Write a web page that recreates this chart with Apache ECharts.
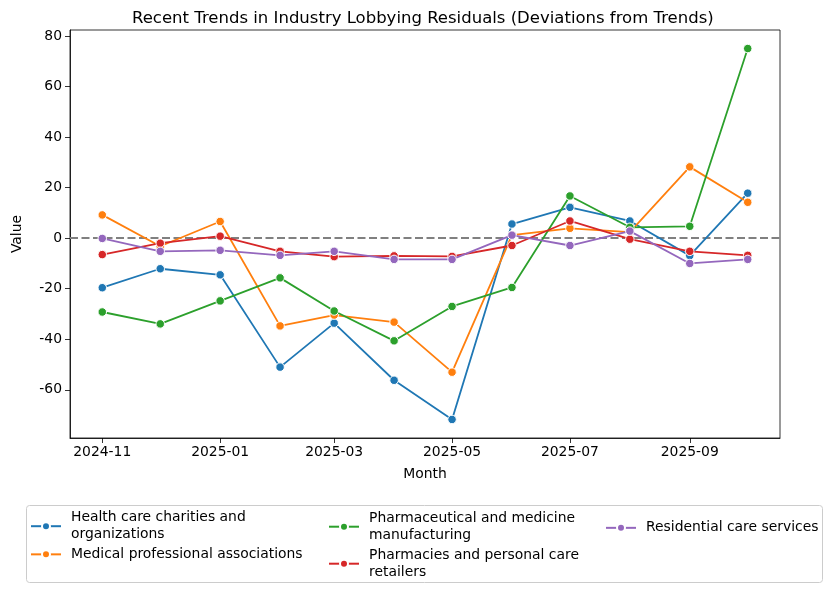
<!DOCTYPE html>
<html>
<head>
<meta charset="utf-8">
<script src="https://cdn.jsdelivr.net/npm/echarts@6/dist/echarts.min.js"></script>
<style>html,body{margin:0;padding:0;background:#fff}#c{width:832px;height:593px}</style>
</head>
<body>
<div id="c"></div>
<script>
const months = ['2024-11','2024-12','2025-01','2025-02','2025-03','2025-04','2025-05','2025-06','2025-07','2025-08','2025-09','2025-10'];
const xTickLabels = ['2024-11','2025-01','2025-03','2025-05','2025-07','2025-09'];
const yTicks = [-60,-40,-20,0,20,40,60,80];
const seriesNames = ['Health care charities and organizations','Medical professional associations','Pharmaceutical and medicine manufacturing','Pharmacies and personal care retailers','Residential care services'];
const healthCharities = [-19.6,-12.1,-14.5,-51.0,-33.6,-56.2,-71.7,5.6,12.2,6.8,-6.9,17.8];
const medicalAssoc = [9.2,-3.2,6.6,-34.7,-30.4,-33.2,-53.0,1.2,3.9,2.4,28.2,14.2];
const pharmaManuf = [-29.2,-33.9,-24.8,-15.7,-28.8,-40.6,-27.0,-19.5,16.7,4.3,4.7,75.0];
const pharmacies = [-6.5,-2.0,0.8,-5.2,-7.3,-7.0,-7.2,-2.9,6.8,-0.4,-5.2,-6.8];
const residential = [-0.1,-5.2,-4.8,-6.8,-5.2,-8.4,-8.4,1.2,-2.9,2.8,-10.0,-8.4];
const colors = ['#1f77b4','#ff7f0e','#2ca02c','#d62728','#9467bd'];
const allValues = [healthCharities, medicalAssoc, pharmaManuf, pharmacies, residential];

// convert 'YYYY-MM' to days since epoch (UTC), so the axis is a true time scale
function dayNum(s){ const p=s.split('-'); return Date.UTC(+p[0], +p[1]-1, 1) / 86400000; }
function pad2(n){ return (n<10?'0':'')+n; }
const t0 = dayNum(months[0]), t1 = dayNum(months[months.length-1]);
const xpad = (t1-t0)*0.05;
const flat = allValues.flat();
const dmin = Math.min(...flat), dmax = Math.max(...flat);
const ypad = (dmax-dmin)*0.05;
const xTickVals = xTickLabels.map(dayNum);

const font = 'DejaVu Sans';
const series = seriesNames.map((n,i)=>({
  name: n, type: 'line',
  data: months.map((m,j)=>[dayNum(m), allValues[i][j]]),
  symbol: 'circle', symbolSize: 8.5,
  lineStyle: {width: 1.8, color: colors[i]},
  itemStyle: {color: colors[i], borderColor: '#fff', borderWidth: 1},
  z: 3 + i,
  animation: false
}));
series[0].markLine = {
  silent: true, symbol: ['none','none'], label: {show:false},
  lineStyle: {color: '#808080', type: [8,3.5], width: 1.8},
  data: [{yAxis: 0}], z: 2
};

const legendLabels = ['Health care charities and\norganizations','Medical professional associations','Pharmaceutical and medicine\nmanufacturing','Pharmacies and personal care\nretailers','Residential care services'];
const legendPos = [[30,509.5],[30,546],[328,510],[328,547],[605,519.5]];
const legends = seriesNames.map((n,i)=>({
  data: [n], left: legendPos[i][0], top: legendPos[i][1], padding: 0,
  itemWidth: 30, itemHeight: 10, selectedMode: false,
  formatter: ()=>legendLabels[i],
  textStyle: {fontFamily: font, fontSize: 13.9, color: '#000', lineHeight: 16.7, padding: [0,0,0,5]}
}));

const chart = echarts.init(document.getElementById('c'), null, {renderer: 'canvas'});
chart.setOption({
  animation: false,
  color: colors,
  title: {text: 'Recent Trends in Industry Lobbying Residuals (Deviations from Trends)', left: 132, top: 10.5, padding: 0,
    textStyle: {fontFamily: font, fontSize: 16.5, fontWeight: 'normal', color: '#000'}},
  legend: legends,
  grid: {left: 70, right: 52, top: 30, height: 408, show: true, borderColor: '#000', borderWidth: 0.8, containLabel: false},
  graphic: [{type: 'rect', shape: {x: 26.5, y: 505.5, width: 796, height: 77, r: 3}, style: {fill: 'none', stroke: '#cccccc', lineWidth: 1}, z: -1}],
  xAxis: {
    type: 'value', min: t0 - xpad, max: t1 + xpad,
    name: 'Month', nameLocation: 'middle', nameGap: 29,
    nameTextStyle: {fontFamily: font, fontSize: 13.9, color: '#000'},
    axisLine: {onZero: false, lineStyle: {color: '#000', width: 0.8}},
    axisTick: {show: true, length: 5, lineStyle: {color: '#000', width: 0.8}, customValues: xTickVals},
    axisLabel: {fontFamily: font, fontSize: 13.9, color: '#000', margin: 7, customValues: xTickVals,
      formatter: v => { const d = new Date(Math.round(v) * 86400000); return d.getUTCFullYear() + '-' + pad2(d.getUTCMonth()+1); }},
    splitLine: {show: false}
  },
  yAxis: {
    type: 'value', min: dmin - ypad, max: dmax + ypad,
    name: 'Value', nameLocation: 'middle', nameGap: 46,
    nameTextStyle: {fontFamily: font, fontSize: 13.9, color: '#000'},
    axisLine: {show: true, onZero: false, lineStyle: {color: '#000', width: 0.8}},
    axisTick: {show: true, length: 5, lineStyle: {color: '#000', width: 0.8}, customValues: yTicks},
    axisLabel: {fontFamily: font, fontSize: 13.9, color: '#000', margin: 8, customValues: yTicks},
    splitLine: {show: false}
  },
  series: series
});
</script>
</body>
</html>
